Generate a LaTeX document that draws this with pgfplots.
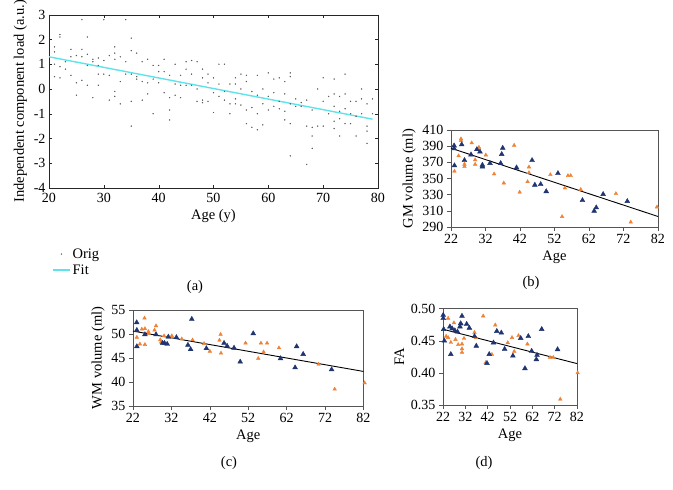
\documentclass[border=0pt]{standalone}
\usepackage{pgfplots}
\pgfplotsset{compat=1.18}
\usepackage{fontspec}
\setmainfont{Liberation Serif}
\definecolor{navy}{HTML}{1F3470}
\definecolor{orng}{HTML}{EE8236}
\definecolor{fitcyan}{HTML}{5FE3EA}
\definecolor{frame}{HTML}{555555}

\pgfplotstableread{
x y
21 1.7
21 1.5
21 1.0
21 0.5
22 2.2
22 2.1
22 0.9
22 0.45
23 1.1
23 0.8
24 1.6
24 0.55
24 1.3
25 1.35
25 0.25
25 -0.25
26 2.8
26 1.6
26 0.35
26 1.3
27 2.1
27 1.4
27 0.95
27 0.15
28 1.2
28 1.1
28 -0.35
29 1.25
29 0.95
29 0.6
29 0.15
30 2.8
30 1.15
30 0.6
31 1.35
31 0.55
31 -0.45
32 1.7
32 1.45
32 1.2
32 -0.3
32 -0.1
33 1.3
33 0.3
33 -0.6
34 2.8
34 1.1
34 0.6
35 2.05
35 1.55
35 0.6
35 -0.5
35 -1.5
36 1.45
36 0.5
36 0.4
37 1.1
37 0.3
37 -0.45
38 1.2
38 0.25
38 -0.2
39 0.95
39 0.4
39 -1.0
40 0.95
40 0.7
40 0.25
41 1.2
41 0.7
41 -0.15
42 0.55
42 -0.35
42 -0.85
42 -1.25
43 1.0
43 0.2
43 -0.25
44 0.55
44 0.15
44 -0.35
45 1.1
45 0.8
45 0.15
46 1.15
46 0.6
46 0.15
47 1.1
47 0.0
47 -0.5
48 0.8
48 0.45
48 -0.45
48 -0.55
49 0.6
49 0.25
49 -0.5
50 0.45
50 -0.15
50 -0.95
51 1.0
51 0.2
51 -0.3
52 1.0
52 -0.1
52 -0.45
53 0.2
53 -0.6
53 -1.0
54 0.45
54 0.2
54 -0.4
54 -0.6
55 0.6
55 0.0
55 -0.65
56 0.55
56 0.3
56 -0.85
56 -1.4
57 -0.1
57 -0.75
57 -1.55
58 0.55
58 -0.25
58 -1.0
58 -1.65
59 0.0
59 -0.6
59 -1.45
60 0.65
60 -0.3
60 -0.85
61 0.4
61 -0.15
61 -0.7
62 0.45
62 -0.5
62 -0.8
63 0.3
63 -0.2
63 -0.9
63 -1.25
64 0.65
64 0.5
64 -0.6
64 -1.4
64 -2.7
65 -0.4
65 -0.7
66 -0.55
66 -0.7
67 -0.45
67 -1.5
67 -3.05
68 -0.85
68 -1.55
68 -1.9
68 -2.4
69 0.0
69 -1.5
70 0.45
70 -0.5
70 -1.5
71 -1.0
71 -0.3
72 0.4
72 -0.2
72 -0.7
72 -1.3
72 -1.6
73 -0.3
73 -0.9
73 -1.2
73 -1.9
74 0.6
74 -0.2
74 -0.8
74 -1.4
75 -0.5
75 -1.0
75 -1.4
76 -0.5
76 -1.1
76 -1.9
77 0.0
77 -0.4
77 -1.0
78 -0.6
78 -1.5
78 -1.7
78 -2.2
79 -0.4
79 -1.0
}\dataA

\pgfplotstableread{
x y
22.9 390.6
22.9 387
23 366
25.1 392
25.9 372.5
27.8 379.5
29.5 386
30.4 383
31.1 366.7
31.1 364.6
33.3 368.8
36.4 368.8
36.7 380
37 387.7
41 363.4
45.5 372.5
46.3 342
48 342.8
49.6 334
53 356.4
60.1 323
63.5 309.8
64.1 314
66.1 330.5
73.1 321.8
}\dataBn
\pgfplotstableread{
x y
23 359
24.9 399
24.9 397
24.2 378
25.9 367.6
25.9 364.6
28 394
29 373
29 367.5
30.1 388.6
32.1 379
34.5 355.6
37.3 344.4
40.3 391
41.9 333
44.2 346
44.6 364.2
44.6 357.2
50.8 354.7
54.2 302.8
55 338.3
55.9 353.5
56.7 353.5
59.6 336.3
69.8 331.2
74.1 296
81.7 314.7
}\dataBo

\pgfplotstableread{
x y
22.96 52.4
23 50.8
23 47.4
25.1 49.9
28 49.9
29.7 48.1
30.2 48.1
30.9 47.9
31.2 49.4
33.3 49.3
37.3 53.1
36.3 47.7
37 46.8
41.1 47
45.7 48.1
46.5 47.5
48.3 47.1
49.9 44.2
53.3 50.1
60.4 44.9
64.6 47.4
66.3 45.8
64.2 43
73.7 42.6
}\dataCn
\pgfplotstableread{
x y
23 49.3
23.8 47.9
24.3 51
25 53.3
25.1 51.1
25.1 47.8
26 50.5
26 50.1
27.6 50.8
28 51.7
29.1 48.8
29.3 48.3
30.1 49.6
32.1 49.6
32.1 49.4
34.7 48.96
37.5 48.75
40.5 48
42 46.4
44.8 49.9
44.5 48.7
44.9 46
51.3 48.1
55.3 48.1
56.9 48.1
54.6 44.9
56 46.25
60 47.1
70.3 43.7
74.5 38.5
82.3 39.8
}\dataCo

\pgfplotstableread{
x y
22.1 0.490
22.1 0.485
22.6 0.450
22.3 0.468
25.1 0.472
26.1 0.469
25.5 0.429
27.3 0.466
28.5 0.464
29.6 0.472
29.9 0.477
30.5 0.4886
32.6 0.476
33.8 0.470
36.1 0.457
36.9 0.442
41.7 0.415
42.7 0.429
44.6 0.447
46.1 0.465
48.1 0.4625
49.6 0.437
56.8 0.454
60.2 0.457
53.3 0.4266
61.7 0.434
64.1 0.4277
63.8 0.421
58.7 0.407
66.2 0.468
73.3 0.4366
}\dataDn
\pgfplotstableread{
x y
24.3 0.485
23.4 0.457
24.3 0.455
25.5 0.4475
26.9 0.478
27.6 0.452
28.8 0.444
30.3 0.476
30.5 0.445
30.5 0.4375
30.5 0.432
31.4 0.4537
36.1 0.463
36.7 0.455
40.0 0.4886
41.1 0.416
43.9 0.4287
45.4 0.4745
51.0 0.447
52.9 0.455
55.8 0.458
59.8 0.445
53.9 0.4334
69.9 0.424
71.4 0.424
74.5 0.359
82.3 0.400
}\dataDo

\begin{document}
\begin{tikzpicture}[x=1pt,y=1pt]
\useasboundingbox (0,0) rectangle (673,490);
\pgfplotsset{
  every axis/.append style={
    scale only axis,
    /pgf/number format/assume math mode=true,
    tick label style={font=\fontsize{14}{15}\selectfont},
    label style={font=\fontsize{14.5}{15}\selectfont},
  },
  small/.style={
    axis line style={frame},
    tick style={frame, thin},
    tick align=outside,
    xtick pos=left, ytick pos=left,
    major tick length=4pt,
    xtick={22,32,...,82},
    xmin=22, xmax=82,
    xlabel={Age},
    clip=false,
  },
  navym/.style={only marks, mark=triangle*, mark size=2.8pt, navy, mark options={fill=navy, draw=navy}},
  orngm/.style={only marks, mark=triangle*, mark size=2.1pt, orng, mark options={fill=orng, draw=orng}},
}
% (a)
\begin{axis}[at={(49pt,302pt)}, anchor=south west, width=329pt, height=173.3pt,
  xmin=20, xmax=80, ymin=-4, ymax=3,
  xtick={20,30,...,80}, ytick={-4,-3,...,3},
  tick align=inside, major tick length=3pt,
  axis line style={black!85}, tick style={black!85},
  xticklabel style={yshift=-1.5pt},
  xlabel={Age (y)}, ylabel={Independent component load (a.u.)},
  legend style={at={(0,-0.325)}, anchor=north west, draw=none, fill=none,
    font=\fontsize{14.5}{15}\selectfont, row sep=1pt},
  legend cell align=left]
\addplot[only marks, mark=*, mark size=0.45pt, black!65] table {\dataA};
\addlegendentry{Orig}
\addplot[fitcyan, line width=1.4pt] coordinates {(20,1.3) (79,-1.22)};
\addlegendentry{Fit}
\end{axis}
% (b)
\begin{axis}[small, at={(451pt,263pt)}, anchor=south west, width=207pt, height=97pt,
  ymin=290, ymax=410, ytick={290,310,...,410}, ylabel={GM volume (ml)}]
\addplot[orngm] table {\dataBo};
\addplot[navym] table {\dataBn};
\addplot[black, line width=0.9pt] coordinates {(22,387.5) (82,303)};
\end{axis}
% (c)
\begin{axis}[small, at={(133pt,84pt)}, anchor=south west, width=230.5pt, height=96pt,
  ymin=35, ymax=55, ytick={35,40,...,55}, ylabel={WM volume (ml)}]
\addplot[orngm] table {\dataCo};
\addplot[navym] table {\dataCn};
\addplot[black, line width=0.9pt] coordinates {(22,50.6) (82,42.2)};
\end{axis}
% (d)
\begin{axis}[small, at={(443pt,85pt)}, anchor=south west, width=134pt, height=96.3pt,
  ymin=0.35, ymax=0.50, ytick={0.35,0.40,...,0.50},
  yticklabel style={/pgf/number format/.cd, fixed, fixed zerofill, precision=2},
  ylabel={FA}]
\addplot[orngm] table {\dataDo};
\addplot[navym] table {\dataDn};
\addplot[black, line width=0.9pt] coordinates {(22,0.468) (82,0.4145)};
\end{axis}
\node[font=\fontsize{14.5}{15}\selectfont] at (195,203) {(a)};
\node[font=\fontsize{14.5}{15}\selectfont] at (531,207) {(b)};
\node[font=\fontsize{14.5}{15}\selectfont] at (229,27) {(c)};
\node[font=\fontsize{14.5}{15}\selectfont] at (484,27) {(d)};
\end{tikzpicture}
\end{document}
